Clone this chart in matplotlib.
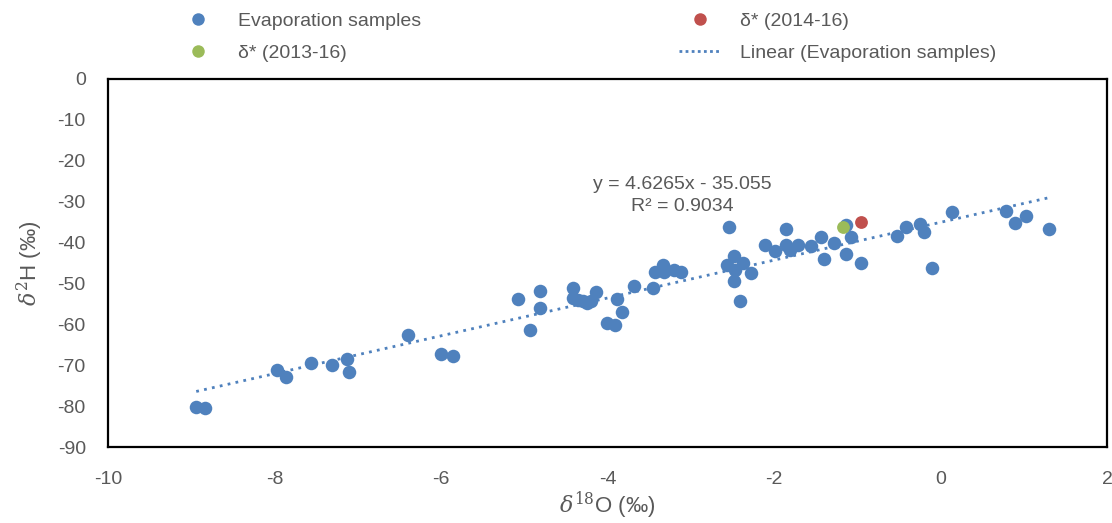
import matplotlib
matplotlib.use("Agg")
import matplotlib.pyplot as plt
import numpy as np
from matplotlib.lines import Line2D

plt.rcParams["font.family"] = ["Liberation Sans", "DejaVu Sans"]
plt.rcParams["axes.unicode_minus"] = False
plt.rcParams["mathtext.fontset"] = "dejavuserif"

BLUE, RED, GREEN, GREY = "#4F81BD", "#C0504D", "#9BBB59", "#595959"

# evaporation samples (delta18O, delta2H)
evap_x = [-8.94, -8.84, -7.97, -7.86, -7.56, -7.31, -7.13, -7.10, -6.40, -6.00,
          -5.85, -5.08, -4.93, -4.81, -4.81, -4.42, -4.42, -4.35, -4.30, -4.25,
          -4.20, -4.14, -4.00, -3.91, -3.89, -3.82, -3.68, -3.45, -3.43, -3.33,
          -3.32, -3.20, -3.12, -2.57, -2.54, -2.48, -2.47, -2.48, -2.41, -2.37,
          -2.28, -2.11, -1.99, -1.86, -1.85, -1.81, -1.71, -1.56, -1.44, -1.40,
          -1.28, -1.13, -1.14, -1.08, -0.96, -0.52, -0.41, -0.25, -0.20, -0.10,
          0.14, 0.79, 0.90, 1.03, 1.30]
evap_y = [-80.2, -80.5, -71.1, -72.9, -69.4, -70.0, -68.5, -71.7, -62.6, -67.3,
          -67.7, -53.9, -61.4, -51.8, -55.9, -51.2, -53.5, -54.0, -54.3, -54.9,
          -54.2, -52.1, -59.7, -60.2, -53.9, -57.0, -50.6, -51.0, -47.1, -45.6,
          -47.3, -46.8, -47.2, -45.5, -36.3, -43.4, -46.7, -49.3, -54.4, -45.1,
          -47.5, -40.6, -42.0, -36.8, -40.6, -41.8, -40.6, -40.8, -38.7, -44.0,
          -40.0, -35.7, -42.9, -38.7, -45.1, -38.3, -36.3, -35.5, -37.3, -46.3,
          -32.6, -32.3, -35.1, -33.5, -36.7]

star_1416 = (-0.96, -34.9)
star_1316 = (-1.17, -36.3)

slope, icept, r2 = 4.6265, -35.055, 0.9034

fig = plt.figure(figsize=(11.12, 5.23), dpi=100)
ax = fig.add_axes([0.0971, 0.1453, 0.8984, 0.7037])

tx = np.array([min(evap_x), max(evap_x)])
ax.plot(tx, slope * tx + icept, color=BLUE, lw=2.0, ls=(0, (1, 1.9)), zorder=2)
ax.scatter(evap_x, evap_y, s=95, color=BLUE, lw=0, zorder=3)
ax.scatter([star_1416[0]], [star_1416[1]], s=85, color=RED, lw=0, zorder=4)
ax.scatter([star_1316[0]], [star_1316[1]], s=85, color=GREEN, lw=0, zorder=4)

ax.text(-3.1, -25.8, f"y = {slope}x - {abs(icept)}", ha="center", va="center",
        fontsize=14, color=GREY)
ax.text(-3.1, -31.2, f"R² = {r2}", ha="center", va="center",
        fontsize=14, color=GREY)

ax.set_xlim(-10, 2)
ax.set_ylim(-90, 0)
ax.set_xticks(np.arange(-10, 3, 2))
ax.set_yticks(np.arange(-90, 1, 10))
ax.tick_params(length=0, labelsize=14, labelcolor=GREY)
ax.tick_params(axis="x", pad=17)
ax.tick_params(axis="y", pad=16)
for s in ax.spines.values():
    s.set_linewidth(1.6)
    s.set_color("black")

ax.set_xlabel(r"$\delta^{18}$O (‰)", fontsize=16, color=GREY, labelpad=1)
ax.set_ylabel(r"$\delta^{2}$H (‰)", fontsize=16, color=GREY, labelpad=9)

handles = [
    Line2D([], [], ls="", marker="o", ms=9, color=BLUE, mec="none"),
    Line2D([], [], ls="", marker="o", ms=9, color=GREEN, mec="none"),
    Line2D([], [], ls="", marker="o", ms=9, color=RED, mec="none"),
    Line2D([], [], color=BLUE, lw=2.0, ls=(0, (1, 1.2))),
]
labels = ["Evaporation samples", "δ* (2013-16)", "δ* (2014-16)",
          "Linear (Evaporation samples)"]
leg = fig.legend(handles, labels, ncol=2, loc="upper left",
                 bbox_to_anchor=(0.143, 1.01), frameon=False, fontsize=14,
                 labelcolor=GREY, handlelength=2.2, handletextpad=0.95,
                 columnspacing=13.25, labelspacing=0.75)

fig.savefig("out.png", dpi=100)
